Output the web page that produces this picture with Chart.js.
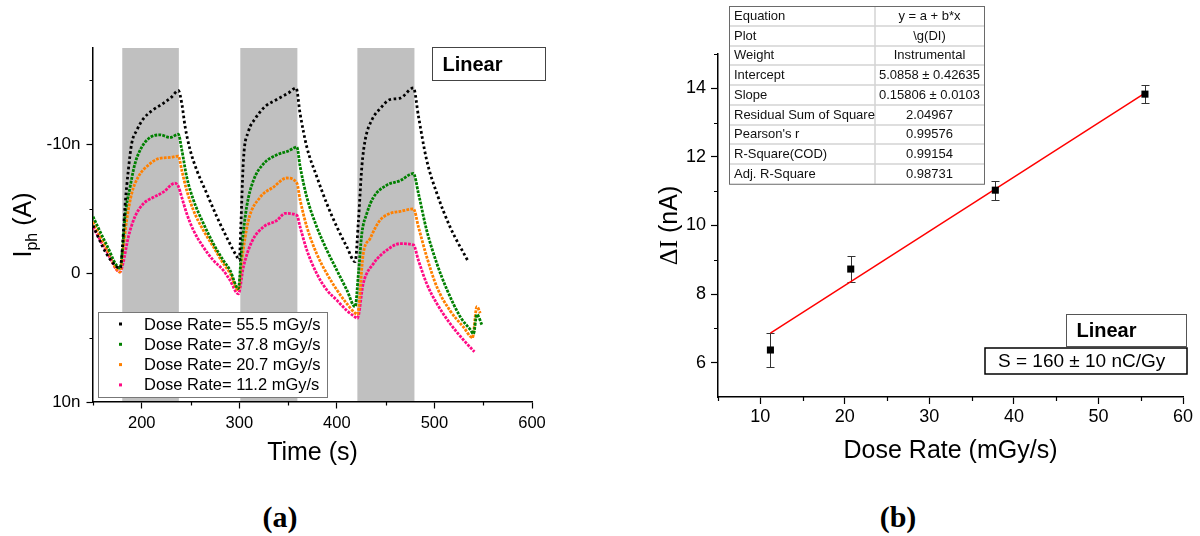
<!DOCTYPE html>
<html>
<head>
<meta charset="utf-8">
<title>Photocurrent transients and dose-rate calibration</title>
<script src="https://cdn.jsdelivr.net/npm/chart.js@4.4.1/dist/chart.umd.min.js"></script>
<style>
  body { margin: 0; background: #fff; width: 1200px; height: 536px; position: relative; overflow: hidden; }
  canvas { position: absolute; top: 0; }
  #timeChart { left: 0; }
  #doseChart { left: 600px; }
  .caption { position: absolute; top: 500px; line-height: 30px; font: bold 30px "Liberation Serif", "Times New Roman", serif; transform: translateX(-50%); }
</style>
</head>
<body>
<canvas id="timeChart" width="600" height="470"></canvas>
<canvas id="doseChart" width="600" height="470"></canvas>
<div class="caption" style="left:280px">(a)</div>
<div class="caption" style="left:898px">(b)</div>
<script>
const SANS = '"Liberation Sans", Arial, sans-serif';
Chart.defaults.font.family = SANS;
Chart.defaults.color = '#000';

// ---- (a) photocurrent vs time, values in nA (axis is reversed like the original)
const irradiationWindows = [[180, 238], [301, 359.5], [421, 479.5]];
const timeTicks = [200, 300, 400, 500, 600];
const timeMinorTicks = [150, 250, 350, 450, 550];
const currentTicks = [-10, 0, 10];
const currentMinorTicks = [-15, -5, 5];

const seriesLabels = ['Dose Rate= 55.5 mGy/s', 'Dose Rate= 37.8 mGy/s', 'Dose Rate= 20.7 mGy/s', 'Dose Rate= 11.2 mGy/s'];
const seriesColors = ['#000000', '#008000', '#ff8000', '#ff0a84'];

const time55 = [150, 164, 178, 180.4, 182.8, 186.2, 189.7, 194.8, 201.6, 211.8, 222, 230.7, 237.5, 241, 244.4, 249.5, 256.4, 266.6, 276.9, 287, 297.4, 300, 301.5, 304.2, 309.3, 316.2, 326.4, 338.4, 350.3, 358.2, 362.3, 369.2, 379.4, 389.7, 400, 410.2, 418.7, 422.1, 425.6, 429, 435.8, 444.4, 454.6, 464.9, 478.5, 483.6, 492, 502.5, 516, 534];
const curr55 = [-3.7, -1.5, -0.4, -2.3, -5.2, -8.0, -10.1, -11.1, -12.0, -12.7, -13.2, -13.7, -14.2, -13.2, -11.4, -9.6, -8.0, -6.2, -4.4, -2.8, -1.3, -1.0, -3.6, -8.8, -11.0, -12.0, -12.95, -13.5, -14.0, -14.4, -12.4, -9.8, -7.5, -5.4, -3.6, -2.05, -0.9, -4.1, -8.3, -10.35, -11.9, -12.8, -13.5, -13.6, -14.4, -12.2, -8.8, -6.2, -3.6, -1.0];

const time37 = [150, 164, 177.7, 180.4, 182.8, 188, 193, 200, 208.5, 218.7, 229, 237.5, 241, 246, 252.9, 263, 273.4, 283.6, 290.5, 299, 302.5, 307.6, 314.4, 324.7, 338.4, 350.3, 359, 362.3, 369.2, 379.4, 389.7, 400, 410.2, 418.7, 422.1, 425.6, 430.7, 437.5, 451.2, 464.9, 478.5, 483.6, 492, 502.5, 513, 526.6, 537, 540, 543.5, 548.6];
const curr37 = [-4.4, -2.2, -0.4, -2.0, -4.4, -6.7, -8.5, -9.8, -10.55, -10.75, -10.55, -10.8, -9.6, -7.5, -5.7, -3.9, -2.3, -1.0, -0.23, 1.2, -2.05, -5.2, -7.2, -8.5, -9.2, -9.5, -9.8, -8.3, -5.9, -3.6, -1.8, -0.23, 1.3, 2.6, 0.0, -3.1, -4.65, -5.9, -6.85, -7.2, -7.75, -6.2, -3.35, -0.75, 1.3, 3.4, 4.4, 4.7, 3.2, 4.0];

const time20 = [150, 164, 177.7, 180.7, 184.5, 189.7, 196.5, 206.7, 217, 229, 237.5, 241, 246, 252.9, 263, 273.4, 283.6, 290.5, 299, 302.5, 309.3, 321.3, 335, 348.7, 359, 362.3, 369.2, 379.4, 389.7, 400, 410.2, 418.7, 421, 427, 434, 444, 454.6, 464.9, 478.5, 483.6, 492, 502.5, 516, 530, 539, 543.5, 547];
const curr20 = [-4.0, -1.9, -0.1, -1.8, -4.1, -6.2, -7.5, -8.4, -8.9, -9.0, -9.1, -8.0, -6.45, -4.9, -3.35, -2.05, -0.75, 0.0, 1.3, -1.0, -4.1, -5.9, -6.7, -7.4, -7.0, -5.7, -3.6, -1.5, 0.03, 1.3, 2.36, 3.1, 3.2, -1.5, -2.7, -4.1, -4.65, -4.8, -5.0, -3.6, -1.3, 1.07, 2.9, 4.2, 5.0, 2.6, 3.1];

const time11 = [150, 164, 177.7, 180.7, 186.2, 193, 201.6, 211.8, 222, 234, 237.5, 241, 246, 252.9, 263, 273.4, 283.6, 290.5, 299, 304.2, 312.8, 324.7, 338.4, 346.9, 359, 362.3, 369.2, 379.4, 389.7, 400, 410.2, 418.7, 421, 427, 437.5, 451.2, 464.9, 478.5, 483.6, 492, 502.5, 516, 530, 541];
const curr11 = [-3.6, -1.7, -0.1, -0.75, -2.8, -4.4, -5.4, -5.9, -6.3, -7.0, -6.75, -5.9, -4.65, -3.35, -2.05, -1.0, -0.23, 0.55, 1.6, -0.5, -2.45, -3.6, -4.1, -4.65, -4.5, -3.6, -1.8, 0.03, 1.3, 2.1, 2.9, 3.4, 3.5, 0.8, -0.75, -1.8, -2.3, -2.2, -1.0, 0.8, 2.36, 3.9, 5.2, 6.1];

const seriesTimes = [time55, time37, time20, time11];
const seriesCurrents = [curr55, curr37, curr20, curr11];
const seriesDash = [[2.6, 2.6], [2.8, 1.2], [2.8, 1.2], [2.8, 1.2]];

// ---- (b) current step vs dose rate
const doseRate = [11.2, 20.7, 37.8, 55.5];
const deltaI = [6.37, 8.73, 11.03, 13.83];
const deltaIErr = [0.5, 0.37, 0.28, 0.27];
const fitLineX = [11.2, 55.5];
const fitLineY = [6.86, 13.86];
const doseTicks = [10, 20, 30, 40, 50, 60];
const doseMinorTicks = [5, 15, 25, 35, 45, 55];
const deltaTicks = [6, 8, 10, 12, 14];
const deltaMinorTicks = [7, 9, 11, 13, 15];
const fitStatNames = ['Equation', 'Plot', 'Weight', 'Intercept', 'Slope', 'Residual Sum of Square', "Pearson's r", 'R-Square(COD)', 'Adj. R-Square'];
const fitStatValues = ['y = a + b*x', '\\g(DI)', 'Instrumental', '5.0858 \u00b1 0.42635', '0.15806 \u00b1 0.0103', '2.04967', '0.99576', '0.99154', '0.98731'];

// ---- small plugins
const irradiationBands = {
  id: 'irradiationBands',
  beforeDatasetsDraw(chart) {
    const {ctx, chartArea, scales: {x}} = chart;
    ctx.save();
    ctx.fillStyle = '#c0c0c0';
    for (const [t0, t1] of irradiationWindows) {
      const x0 = x.getPixelForValue(t0);
      const x1 = x.getPixelForValue(t1);
      ctx.fillRect(x0, chartArea.top, x1 - x0, chartArea.bottom - chartArea.top - 1);
    }
    ctx.restore();
  }
};

const minorTicks = {
  id: 'minorTicks',
  afterDraw(chart, args, opts) {
    const {ctx, scales: {x, y}} = chart;
    ctx.save();
    ctx.strokeStyle = '#000';
    ctx.lineWidth = 1.2;
    ctx.beginPath();
    for (const v of opts.x) {
      const px = Math.round(x.getPixelForValue(v)) + 0.5;
      ctx.moveTo(px, x.top);
      ctx.lineTo(px, x.top + opts.len);
    }
    for (const v of opts.y) {
      const py = Math.round(y.getPixelForValue(v)) + 0.5;
      ctx.moveTo(y.right - opts.len, py);
      ctx.lineTo(y.right, py);
    }
    ctx.stroke();
    ctx.restore();
  }
};

const sideTitle = {
  id: 'sideTitle',
  afterDraw(chart, args, opts) {
    const {ctx, chartArea} = chart;
    const cy = (chartArea.top + chartArea.bottom) / 2;
    ctx.save();
    ctx.translate(opts.x, cy);
    ctx.rotate(-Math.PI / 2);
    ctx.fillStyle = '#000';
    ctx.textBaseline = 'alphabetic';
    ctx.textAlign = 'left';
    let total = 0;
    for (const p of opts.parts) {
      ctx.font = p.font;
      total += ctx.measureText(p.text).width;
    }
    let pos = -total / 2;
    for (const p of opts.parts) {
      ctx.font = p.font;
      ctx.fillText(p.text, pos, p.dy || 0);
      pos += ctx.measureText(p.text).width;
    }
    ctx.restore();
  }
};

const noteBoxes = {
  id: 'noteBoxes',
  afterDraw(chart, args, opts) {
    const ctx = chart.ctx;
    ctx.save();
    for (const b of opts.boxes) {
      ctx.fillStyle = '#fff';
      ctx.fillRect(b.x, b.y, b.w, b.h);
      ctx.strokeStyle = b.stroke;
      ctx.lineWidth = b.lw;
      ctx.strokeRect(b.x, b.y, b.w, b.h);
      ctx.fillStyle = '#000';
      ctx.font = b.font;
      ctx.textBaseline = 'middle';
      ctx.textAlign = 'left';
      ctx.fillText(b.text, b.x + b.pad, b.y + b.h / 2 + 1);
    }
    ctx.restore();
  }
};

const boxLegend = {
  id: 'boxLegend',
  afterDraw(chart) {
    const {ctx, chartArea} = chart;
    const x0 = chartArea.left + 5, y0 = chartArea.bottom - 90;
    ctx.save();
    ctx.fillStyle = '#fff';
    ctx.fillRect(x0, y0, 229, 85);
    ctx.strokeStyle = '#777';
    ctx.lineWidth = 1;
    ctx.strokeRect(x0 + 0.5, y0 + 0.5, 229, 85);
    ctx.font = '16.5px ' + SANS;
    ctx.textBaseline = 'middle';
    chart.data.datasets.forEach((ds, i) => {
      const cy = y0 + 12 + i * 20.3;
      ctx.fillStyle = ds.borderColor;
      ctx.fillRect(x0 + 21, cy - 1.5, 3, 3);
      ctx.fillStyle = '#000';
      ctx.fillText(ds.label, x0 + 46, cy + 1);
    });
    ctx.restore();
  }
};

const errorBars = {
  id: 'errorBars',
  beforeDatasetsDraw(chart) {
    const {ctx, scales: {x, y}} = chart;
    ctx.save();
    ctx.strokeStyle = '#333';
    ctx.lineWidth = 1;
    doseRate.forEach((d, i) => {
      const px = Math.round(x.getPixelForValue(d)) + 0.5;
      const yt = Math.round(y.getPixelForValue(deltaI[i] + deltaIErr[i])) + 0.5;
      const yb = Math.round(y.getPixelForValue(deltaI[i] - deltaIErr[i])) + 0.5;
      ctx.beginPath();
      ctx.moveTo(px, yt); ctx.lineTo(px, yb);
      ctx.moveTo(px - 4, yt); ctx.lineTo(px + 4, yt);
      ctx.moveTo(px - 4, yb); ctx.lineTo(px + 4, yb);
      ctx.stroke();
    });
    ctx.restore();
  }
};

const fitTable = {
  id: 'fitTable',
  afterDraw(chart, args, opts) {
    const ctx = chart.ctx;
    const {left, right, split, top, rowH} = opts;
    const n = fitStatNames.length;
    const bottom = top + rowH * n;
    ctx.save();
    ctx.fillStyle = '#fff';
    ctx.fillRect(left, top, right - left, bottom - top);
    ctx.strokeStyle = '#d4d4d4';
    ctx.lineWidth = 1.5;
    ctx.beginPath();
    for (let i = 1; i < n; i++) {
      const yy = Math.round(top + i * rowH);
      ctx.moveTo(left, yy); ctx.lineTo(right, yy);
    }
    ctx.moveTo(split, top); ctx.lineTo(split, bottom);
    ctx.stroke();
    ctx.strokeStyle = '#6a6a6a';
    ctx.lineWidth = 1;
    ctx.strokeRect(left + 0.5, top + 0.5, right - left, bottom - top);
    ctx.fillStyle = '#111';
    ctx.font = '13px ' + SANS;
    ctx.textBaseline = 'middle';
    for (let i = 0; i < n; i++) {
      const cy = top + (i + 0.5) * rowH + 0.5;
      ctx.textAlign = 'left';
      ctx.fillText(fitStatNames[i], left + 5, cy);
      ctx.textAlign = 'center';
      ctx.fillText(fitStatValues[i], (split + right) / 2, cy);
    }
    ctx.restore();
  }
};

const axisLine = { color: '#000', width: 1.5 };
const tickGrid = (len) => ({ drawOnChartArea: false, drawTicks: true, tickLength: len, tickColor: '#000', tickWidth: 1.2 });
const setTicks = (values) => (scale) => { scale.ticks = values.map(v => ({ value: v })); };

// ---- chart (a)
new Chart(document.getElementById('timeChart'), {
  type: 'scatter',
  data: {
    datasets: seriesLabels.map((label, k) => ({
      label: label,
      data: seriesTimes[k].map((t, i) => ({ x: t, y: seriesCurrents[k][i] })),
      showLine: true,
      borderColor: seriesColors[k],
      backgroundColor: seriesColors[k],
      borderWidth: 2.8,
      borderDash: seriesDash[k],
      pointRadius: 0,
      cubicInterpolationMode: 'monotone'
    }))
  },
  options: {
    responsive: false,
    animation: false,
    events: [],
    layout: { padding: { top: 48, right: 68, left: 0, bottom: 0 } },
    plugins: {
      legend: { display: false },
      tooltip: { enabled: false },
      minorTicks: { x: timeMinorTicks, y: currentMinorTicks, len: 3.5 },
      sideTitle: { x: 31, parts: [
        { text: 'I', font: '25px ' + SANS },
        { text: 'ph', font: '16px ' + SANS, dy: 6 },
        { text: ' (A)', font: '25px ' + SANS }
      ] },
      noteBoxes: { boxes: [
        { x: 432.5, y: 47.5, w: 113, h: 33, stroke: '#444', lw: 1, text: 'Linear', font: 'bold 20px ' + SANS, pad: 10 }
      ] }
    },
    scales: {
      x: {
        type: 'linear', min: 150, max: 600,
        afterBuildTicks: setTicks(timeTicks),
        afterFit: (s) => { s.height = 68; },
        ticks: { font: { size: 16.5 }, padding: 5, maxRotation: 0, autoSkip: false },
        grid: tickGrid(6.5),
        border: axisLine,
        title: { display: true, text: 'Time (s)', font: { size: 25 }, padding: { top: 0, bottom: 2 } }
      },
      y: {
        type: 'linear', reverse: true, min: -17.5, max: 10,
        afterBuildTicks: setTicks(currentTicks),
        afterFit: (s) => { s.width = 93; },
        ticks: { font: { size: 17 }, padding: 6, autoSkip: false, callback: (v) => (v === 0 ? '0' : v + 'n') },
        grid: tickGrid(6.5),
        border: axisLine
      }
    }
  },
  plugins: [irradiationBands, minorTicks, sideTitle, boxLegend, noteBoxes]
});

// ---- chart (b)
new Chart(document.getElementById('doseChart'), {
  type: 'scatter',
  data: {
    datasets: [
      {
        label: 'Delta I',
        data: doseRate.map((d, i) => ({ x: d, y: deltaI[i] })),
        pointStyle: 'rect',
        pointRadius: 5,
        backgroundColor: '#000',
        borderColor: '#000',
        borderWidth: 0
      },
      {
        label: 'Linear fit',
        data: fitLineX.map((d, i) => ({ x: d, y: fitLineY[i] })),
        showLine: true,
        borderColor: '#ff0000',
        borderWidth: 1.5,
        pointRadius: 0
      }
    ]
  },
  options: {
    responsive: false,
    animation: false,
    events: [],
    layout: { padding: { top: 54, right: 17, left: 0, bottom: 0 } },
    plugins: {
      legend: { display: false },
      tooltip: { enabled: false },
      minorTicks: { x: doseMinorTicks, y: deltaMinorTicks, len: 4 },
      sideTitle: { x: 77, parts: [
        { text: '\u0394I', font: '26px "Liberation Serif", "Times New Roman", serif' },
        { text: ' (nA)', font: '25px ' + SANS }
      ] },
      fitTable: { left: 129, right: 384, split: 275, top: 6, rowH: 19.75 },
      noteBoxes: { boxes: [
        { x: 466.5, y: 314.5, w: 120, h: 32, stroke: '#555', lw: 1, text: 'Linear', font: 'bold 20px ' + SANS, pad: 10 },
        { x: 385, y: 348, w: 202, h: 26, stroke: '#000', lw: 1.5, text: 'S = 160 \u00b1 10 nC/Gy', font: '19px ' + SANS, pad: 13 }
      ] }
    },
    scales: {
      x: {
        type: 'linear', min: 5, max: 60,
        afterBuildTicks: setTicks(doseTicks),
        afterFit: (s) => { s.height = 73; },
        ticks: { font: { size: 18 }, padding: 2, maxRotation: 0, autoSkip: false },
        grid: tickGrid(7),
        border: axisLine,
        title: { display: true, text: 'Dose Rate (mGy/s)', font: { size: 25 }, padding: { top: 0, bottom: 4 } }
      },
      y: {
        type: 'linear', min: 5, max: 15,
        afterBuildTicks: setTicks(deltaTicks),
        afterFit: (s) => { s.width = 118; },
        ticks: { font: { size: 18 }, padding: 5, autoSkip: false },
        grid: tickGrid(7),
        border: axisLine
      }
    }
  },
  plugins: [errorBars, minorTicks, sideTitle, fitTable, noteBoxes]
});
</script>
</body>
</html>
